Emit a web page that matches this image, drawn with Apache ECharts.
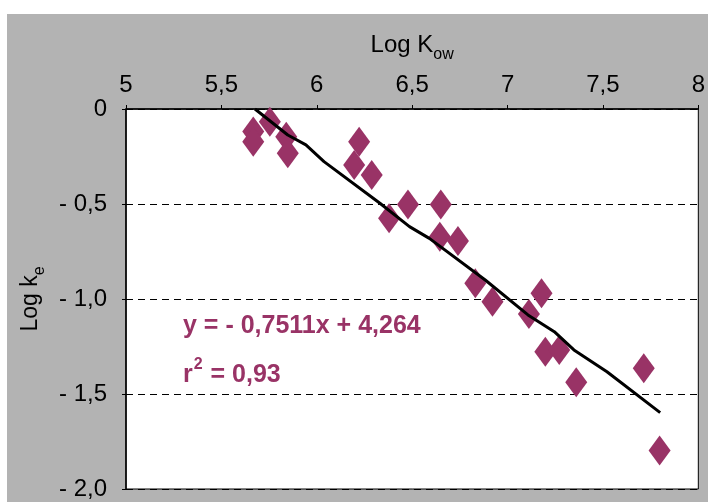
<!DOCTYPE html>
<html>
<head>
<meta charset="utf-8">
<script src="https://cdn.jsdelivr.net/npm/echarts@6/dist/echarts.min.js"></script>
<style>
  html, body { margin: 0; padding: 0; background: #fff; }
  #chart { width: 708px; height: 502px; }
</style>
</head>
<body>
<div id="chart"></div>
<script>
// measured points (Log Kow, Log ke)
const logKow = [5.667, 5.667, 5.754, 5.840, 5.848, 6.222, 6.196, 6.288, 6.379, 6.478, 6.650,
    6.645, 6.740, 6.831, 6.921, 7.112, 7.178, 7.198, 7.271, 7.360, 7.714, 7.797];
const logKe = [-0.119, -0.172, -0.067, -0.146, -0.233, -0.172, -0.295, -0.347, -0.575, -0.502, -0.502,
    -0.672, -0.695, -0.917, -1.014, -1.079, -0.970, -1.277, -1.268, -1.438, -1.365, -1.798];

// trend line vertices as drawn
const trendX = [5.676, 5.848, 5.943, 6.038, 6.331, 6.486, 6.590, 6.883, 7.107, 7.245, 7.348, 7.521, 7.800];
const trendY = [0.0, -0.137, -0.189, -0.277, -0.496, -0.619, -0.681, -0.900, -1.084, -1.172, -1.268, -1.383, -1.598];

const xTicks = [5, 8, 0.5];   // min, max, step
const yTicks = [-2, 0, 0.5];
const equationText = 'y = - 0,7511x + 4,264';
const r2Text = '{b|r}{p|2}{b| = 0,93}';

const FONT = '"Liberation Sans", Arial, sans-serif';
const PLUM = '#993366';

function run() {
    let chart = echarts.init(document.getElementById('chart'));
    const points = logKow.map(function (x, i) { return [x, logKe[i]]; });
    const trend = trendX.map(function (x, i) { return [x, trendY[i]]; });

    let option = {
        backgroundColor: '#fff',
        animation: false,
        textStyle: { fontFamily: FONT },
        graphic: [
            {
                type: 'rect', z: -100, silent: true,
                shape: { x: 7, y: 14, width: 701, height: 488 },
                style: { fill: '#b3b3b3' }
            },
            {
                type: 'text', z: 100, left: 183, top: 314,
                style: { text: equationText, fill: PLUM, font: 'bold 25px ' + FONT }
            },
            {
                type: 'text', z: 100, left: 183, top: 354,
                style: {
                    text: r2Text,
                    rich: {
                        b: { fill: PLUM, fontSize: 25, fontWeight: 'bold', fontFamily: FONT, lineHeight: 34, verticalAlign: 'bottom' },
                        p: { fill: PLUM, fontSize: 16, fontWeight: 'bold', fontFamily: FONT, lineHeight: 16, verticalAlign: 'top', padding: [3, 1, 0, 1] }
                    }
                }
            }
        ],
        grid: {
            left: 126, top: 109, right: 2, bottom: 13,
            show: true, backgroundColor: '#fff', borderColor: '#000', borderWidth: 1
        },
        xAxis: {
            type: 'value',
            position: 'top',
            min: xTicks[0], max: xTicks[1], interval: xTicks[2],
            name: '{m|Log K}{s|ow}',
            nameLocation: 'middle',
            nameGap: 52,
            nameTextStyle: {
                rich: {
                    m: { fontSize: 24, color: '#000', lineHeight: 24, verticalAlign: 'top', fontFamily: FONT },
                    s: { fontSize: 16, color: '#000', lineHeight: 16, padding: [14, 0, 0, 0], verticalAlign: 'top', fontFamily: FONT }
                }
            },
            axisLine: { lineStyle: { color: '#000', width: 1.5 } },
            axisTick: { show: true, length: 4, lineStyle: { color: '#000' } },
            axisLabel: {
                fontSize: 24, color: '#000', margin: 12,
                formatter: function (v) { return String(v).replace('.', ','); }
            },
            splitLine: { show: false }
        },
        yAxis: {
            type: 'value',
            min: yTicks[0], max: yTicks[1], interval: yTicks[2],
            name: '{m|Log k}{s|e}',
            nameLocation: 'middle',
            nameGap: 80,
            nameTextStyle: {
                rich: {
                    m: { fontSize: 23, color: '#000', lineHeight: 24, verticalAlign: 'top', fontFamily: FONT },
                    s: { fontSize: 16, color: '#000', lineHeight: 16, padding: [13, 0, 0, 0], verticalAlign: 'top', fontFamily: FONT }
                }
            },
            axisLine: { show: true, lineStyle: { color: '#000', width: 1.5 } },
            axisTick: { show: true, length: 4, lineStyle: { color: '#000' } },
            axisLabel: {
                fontSize: 24, color: '#000', margin: 19,
                formatter: function (v) {
                    if (v === 0) return '0';
                    return '- ' + Math.abs(v).toFixed(1).replace('.', ',');
                }
            },
            splitLine: { show: true, lineStyle: { color: '#000', width: 1, type: [7, 5] } }
        },
        series: [
            {
                type: 'scatter',
                data: points,
                symbol: 'diamond',
                symbolSize: [22, 30],
                itemStyle: { color: PLUM, opacity: 1 },
                z: 3
            },
            {
                type: 'line',
                data: trend,
                showSymbol: false,
                symbol: 'none',
                lineStyle: { color: '#000', width: 3 },
                z: 4
            }
        ]
    };
    chart.setOption(option);
}
run();
</script>
</body>
</html>
